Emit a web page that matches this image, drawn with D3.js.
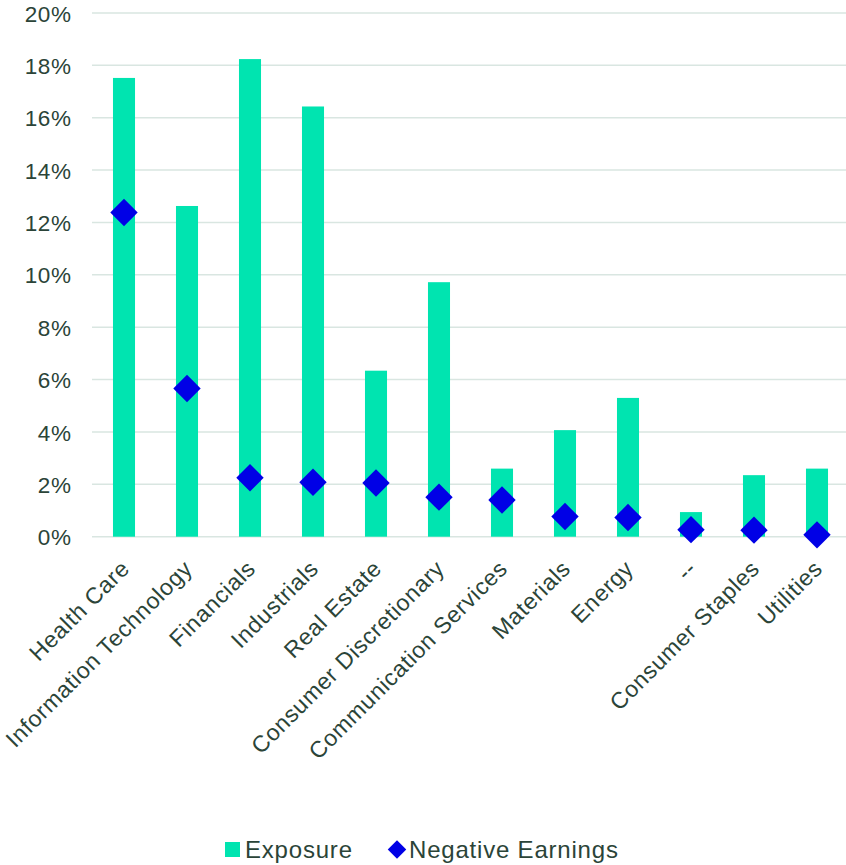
<!DOCTYPE html>
<html>
<head>
<meta charset="utf-8">
<script src="https://cdn.jsdelivr.net/npm/d3@7"></script>
<style>
  html, body { margin: 0; padding: 0; background: #fff; }
  svg { display: block; font-family: "Liberation Sans", Arial, sans-serif; }
</style>
</head>
<body>
<svg id="chart" width="846" height="865"></svg>
<script>
// Sector exposure vs. share with negative earnings (percent)
const categories = [
  "Health Care", "Information Technology", "Financials", "Industrials",
  "Real Estate", "Consumer Discretionary", "Communication Services",
  "Materials", "Energy", "--", "Consumer Staples", "Utilities"
];
const exposure = [17.52, 12.63, 18.24, 16.43, 6.34, 9.72, 2.6, 4.07, 5.3, 0.94, 2.35, 2.6];
const negativeEarnings = [12.38, 5.66, 2.25, 2.08, 2.05, 1.51, 1.4, 0.77, 0.73, 0.27, 0.25, 0.07];
const yTicks = [0, 2, 4, 6, 8, 10, 12, 14, 16, 18, 20];
const seriesNames = ["Exposure", "Negative Earnings"];

const barColor = "#00e4b0";
const markColor = "#0000e6";
const textColor = "#2b4438";
const gridColor = "#d9e6e1";

const svg = d3.select("#chart");

const x = d3.scaleBand()
  .domain(categories)
  .range([92.5, 848.5])
  .paddingInner(0.65)
  .paddingOuter(0.325);

const y = d3.scaleLinear()
  .domain([0, 20])
  .range([536.7, 13]);

// Horizontal gridlines
svg.append("g")
  .selectAll("line")
  .data(yTicks)
  .join("line")
  .attr("x1", 92)
  .attr("x2", 846)
  .attr("y1", d => y(d))
  .attr("y2", d => y(d))
  .attr("stroke", gridColor)
  .attr("stroke-width", 1.5);

// Y axis labels
const yAxis = d3.axisLeft(y)
  .tickValues(yTicks)
  .tickFormat(d => d + "%")
  .tickSize(0)
  .tickPadding(0);

svg.append("g")
  .attr("transform", "translate(71.5,0)")
  .call(yAxis)
  .call(g => g.select(".domain").remove())
  .selectAll("text")
  .attr("fill", textColor)
  .attr("font-size", 22.5)
  .attr("letter-spacing", 0.6)
  .attr("font-family", "'Liberation Sans', Arial, sans-serif")
  .attr("dy", "0.36em");

// Exposure bars
svg.append("g")
  .selectAll("rect")
  .data(categories.map((c, i) => ({ c, v: exposure[i] })))
  .join("rect")
  .attr("x", d => x(d.c))
  .attr("width", x.bandwidth())
  .attr("y", d => y(d.v))
  .attr("height", d => y(0) - y(d.v))
  .attr("fill", barColor);

// Negative earnings markers (diamonds)
const diamond = d3.symbol().type(d3.symbolSquare).size(376);
svg.append("g")
  .selectAll("path")
  .data(categories.map((c, i) => ({ c, v: negativeEarnings[i] })))
  .join("path")
  .attr("d", diamond)
  .attr("transform", d => `translate(${x(d.c) + x.bandwidth() / 2},${y(d.v)}) rotate(45)`)
  .attr("fill", markColor);

// Category labels, rotated
const xAxis = d3.axisBottom(x).tickSize(0).tickPadding(0);
svg.append("g")
  .attr("transform", "translate(0,552)")
  .call(xAxis)
  .call(g => g.select(".domain").remove())
  .selectAll("text")
  .attr("fill", textColor)
  .attr("font-size", 23)
  .attr("letter-spacing", 0.7)
  .attr("font-family", "'Liberation Sans', Arial, sans-serif")
  .attr("text-anchor", "end")
  .attr("dy", 0)
  .attr("transform", "translate(7,18) rotate(-45)");

// Legend
const legend = svg.append("g")
  .attr("font-size", 24)
  .attr("letter-spacing", 0.8)
  .attr("fill", textColor);
legend.append("rect")
  .attr("x", 225).attr("y", 842)
  .attr("width", 15).attr("height", 15)
  .attr("fill", barColor);
legend.append("text")
  .attr("x", 245).attr("y", 858)
  .text(seriesNames[0]);
legend.append("path")
  .attr("d", d3.symbol().type(d3.symbolSquare).size(170))
  .attr("transform", "translate(397,849.5) rotate(45)")
  .attr("fill", markColor);
legend.append("text")
  .attr("x", 409).attr("y", 858)
  .text(seriesNames[1]);
</script>
</body>
</html>
